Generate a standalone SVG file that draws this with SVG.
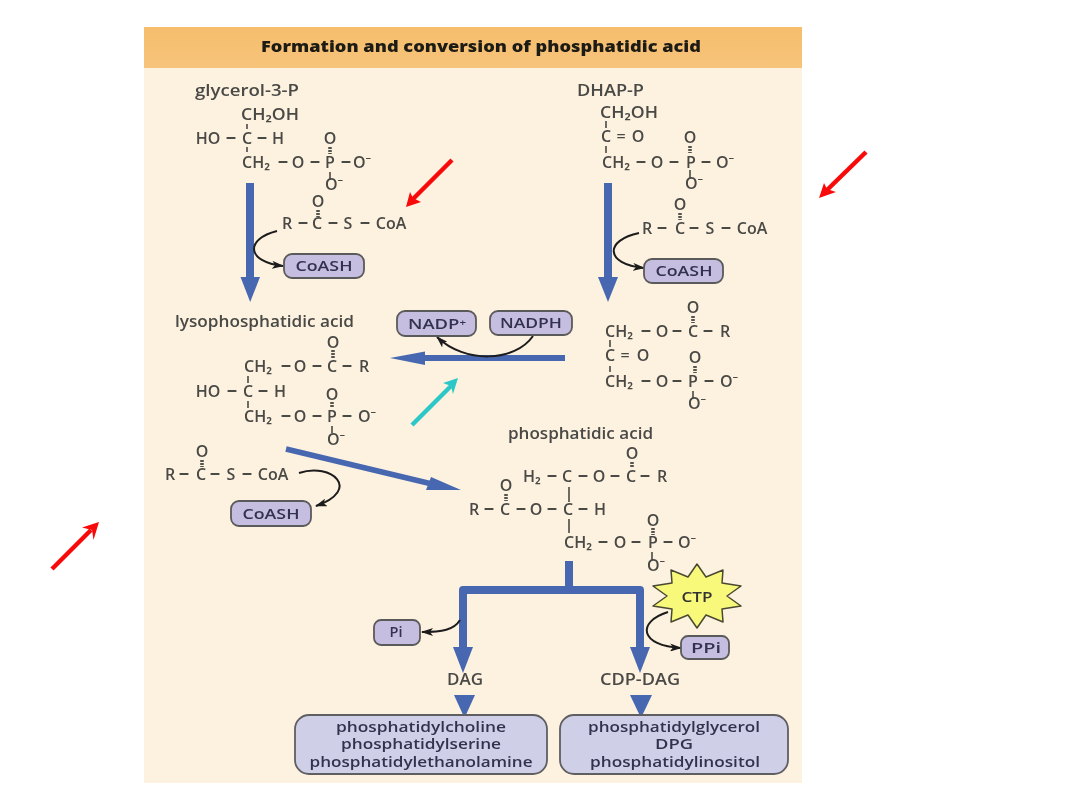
<svg xmlns="http://www.w3.org/2000/svg" width="1080" height="810" viewBox="0 0 1080 810">
<style>
.f{font-family:"Open Sans","Noto Sans","Liberation Sans",sans-serif;font-weight:600;font-size:16px;fill:#484845;text-anchor:middle}
.s{text-anchor:start}
.d{font-size:21px}
.n{font-family:"Open Sans","Noto Sans",sans-serif;font-weight:600;font-size:14.500px;fill:#33334f;text-anchor:middle}
.b{stroke:#5a5a5a;stroke-width:1.8;fill:#c6bee0}
.pb{stroke:#5e5e62;stroke-width:1.8;fill:#cfd0e8}
.bond{stroke:#55554f;stroke-width:1.7;fill:none}
.dbl{stroke:#55554f;stroke-width:3.6;stroke-dasharray:2 1;fill:none}
.flow{stroke:#4668b0;fill:none}
.head{fill:#4668b0}
.c{stroke:#1c1c1c;stroke-width:2;fill:none}
.sup{font-size:9px}
</style>
<defs>
<filter id="soft" x="-2%" y="-2%" width="104%" height="104%"><feGaussianBlur stdDeviation="0.6"/></filter>
<marker id="ch" viewBox="0 0 12 8" refX="11" refY="4" markerWidth="12" markerHeight="8" markerUnits="userSpaceOnUse" orient="auto"><path d="M0 0L12 4L0 8L3 4Z" fill="#1c1c1c"/></marker>
<linearGradient id="hdr" x1="0" y1="0" x2="0" y2="1"><stop offset="0" stop-color="#f5bd6c"/><stop offset="1" stop-color="#f7c47c"/></linearGradient>
</defs>
<rect width="1080" height="810" fill="#fff"/>
<g filter="url(#soft)">
<rect x="144" y="27" width="658" height="756" fill="#fdf1e0"/>
<rect x="144" y="27" width="658" height="41" fill="url(#hdr)"/>
<text x="481" y="52" textLength="440" lengthAdjust="spacingAndGlyphs" style="font-family:'Open Sans','Noto Sans',sans-serif;font-weight:800;font-size:15.500px;fill:#1f1a12;text-anchor:middle">Formation and conversion of phosphatidic acid</text>

<g id="connectors">
<path class="flow" stroke-width="8" d="M250 183V279"/><path class="head" d="M240.500 277H260L250.200 302Z"/>
<path class="flow" stroke-width="8" d="M608 183V279"/><path class="head" d="M598 277H618L608 302Z"/>
<path class="flow" stroke-width="6" d="M565 358H420"/><path class="head" d="M390 358L425 351.500V365Z"/>
<path class="flow" stroke-width="5.500" d="M286 449L432 484"/><path class="head" d="M461 490L431 477L426 490Z"/>
<path class="flow" stroke-width="8" d="M569 561V590"/>
<path class="flow" stroke-width="8" stroke-linejoin="round" d="M463 650V590H640V650"/>
<path class="head" d="M453 647H473L463 673Z"/><path class="head" d="M630 647H650L640 673Z"/>
<path class="head" d="M454 695H475L464.500 718Z"/><path class="head" d="M630 695H652L641 718Z"/>
<path class="c" marker-end="url(#ch)" d="M277 231C245 239 246 262 283 266"/>
<path class="c" marker-end="url(#ch)" d="M639 233C605 240 604 264 644 268"/>
<path class="c" marker-end="url(#ch)" d="M299 473C332 462 362 490 316 506"/>
<path class="c" marker-end="url(#ch)" d="M533 336C515 362 465 364 437 337"/>
<path class="c" marker-end="url(#ch)" d="M460 620C454 630 442 632 422 632"/>
<path class="c" marker-end="url(#ch)" d="M668 612C636 622 640 646 681 648"/>
</g>

<g id="glycerol-3-P">
<text class="f s" x="195" y="96" textLength="104" lengthAdjust="spacingAndGlyphs">glycerol-3-P</text>
<text class="f s" x="241" y="120" textLength="58" lengthAdjust="spacingAndGlyphs">CH₂OH</text>
<path class="bond" d="M247 124V129M247 147V152M330 172V179"/><path class="dbl" d="M330 147V154"/>
<text class="f"><tspan x="208" y="144">HO</tspan><tspan class="d" x="231">–</tspan><tspan x="247">C</tspan><tspan class="d" x="262">–</tspan><tspan x="278">H</tspan><tspan x="330">O</tspan></text>
<text class="f"><tspan x="256" y="168">CH₂</tspan><tspan class="d" x="283">–</tspan><tspan x="298">O</tspan><tspan class="d" x="315">–</tspan><tspan x="330">P</tspan><tspan class="d" x="346">–</tspan><tspan x="362">O⁻</tspan></text>
<text class="f" x="334" y="190">O⁻</text>
</g>
<g id="coa-1">
<path class="dbl" d="M318 210V217"/>
<text class="f" x="318" y="207">O</text>
<text class="f"><tspan x="287" y="229">R</tspan><tspan class="d" x="303">–</tspan><tspan x="317">C</tspan><tspan class="d" x="333">–</tspan><tspan x="348">S</tspan><tspan class="d" x="365">–</tspan><tspan x="391">CoA</tspan></text>
</g>
<g id="coash-1"><rect class="b" x="284" y="254" width="80" height="24" rx="8"/><text class="n" x="324" y="271" textLength="57" lengthAdjust="spacingAndGlyphs">CoASH</text></g>

<g id="DHAP-P">
<text class="f s" x="577" y="96" textLength="67" lengthAdjust="spacingAndGlyphs">DHAP-P</text>
<text class="f s" x="600" y="118" textLength="58" lengthAdjust="spacingAndGlyphs">CH₂OH</text>
<path class="bond" d="M606 121V128M606 146V153M690 170V178"/><path class="dbl" d="M690 146V153"/>
<text class="f"><tspan x="606" y="142">C</tspan><tspan x="621">=</tspan><tspan x="638">O</tspan><tspan x="690" y="143">O</tspan></text>
<text class="f"><tspan x="616" y="168">CH₂</tspan><tspan class="d" x="641">–</tspan><tspan x="657">O</tspan><tspan class="d" x="674">–</tspan><tspan x="691">P</tspan><tspan class="d" x="706">–</tspan><tspan x="725">O⁻</tspan></text>
<text class="f" x="694" y="189">O⁻</text>
</g>
<g id="coa-2">
<path class="dbl" d="M680 213V220"/>
<text class="f" x="680" y="210">O</text>
<text class="f"><tspan x="647" y="234">R</tspan><tspan class="d" x="662">–</tspan><tspan x="680">C</tspan><tspan class="d" x="694">–</tspan><tspan x="710">S</tspan><tspan class="d" x="726">–</tspan><tspan x="752">CoA</tspan></text>
</g>
<g id="coash-2"><rect class="b" x="644" y="259" width="79" height="24" rx="8"/><text class="n" x="684" y="276" textLength="57" lengthAdjust="spacingAndGlyphs">CoASH</text></g>

<g id="lysophosphatidic-acid">
<text class="f s" x="175" y="327" textLength="179" lengthAdjust="spacingAndGlyphs">lysophosphatidic acid</text>
<path class="bond" d="M248 376V383M248 401V408M332 426V433"/><path class="dbl" d="M333 350V358M332 402V408"/>
<text class="f" x="333" y="348">O</text>
<text class="f"><tspan x="258" y="372">CH₂</tspan><tspan class="d" x="286">–</tspan><tspan x="300">O</tspan><tspan class="d" x="317">–</tspan><tspan x="332">C</tspan><tspan class="d" x="347">–</tspan><tspan x="364">R</tspan></text>
<text class="f"><tspan x="208" y="397">HO</tspan><tspan class="d" x="232">–</tspan><tspan x="248">C</tspan><tspan class="d" x="263">–</tspan><tspan x="280">H</tspan><tspan x="332" y="400">O</tspan></text>
<text class="f"><tspan x="258" y="422">CH₂</tspan><tspan class="d" x="286">–</tspan><tspan x="300">O</tspan><tspan class="d" x="317">–</tspan><tspan x="332">P</tspan><tspan class="d" x="347">–</tspan><tspan x="367">O⁻</tspan></text>
<text class="f" x="336" y="445">O⁻</text>
</g>
<g id="coa-3">
<path class="dbl" d="M202 460V467"/>
<text class="f" x="202" y="457">O</text>
<text class="f"><tspan x="170" y="480">R</tspan><tspan class="d" x="184">–</tspan><tspan x="201">C</tspan><tspan class="d" x="215">–</tspan><tspan x="231">S</tspan><tspan class="d" x="247">–</tspan><tspan x="273">CoA</tspan></text>
</g>
<g id="coash-3"><rect class="b" x="231" y="501" width="80" height="25" rx="8"/><text class="n" x="271" y="519" textLength="57" lengthAdjust="spacingAndGlyphs">CoASH</text></g>

<g id="nadp"><rect class="b" x="397" y="311" width="79" height="25" rx="8"/><text class="n" x="437" y="329" textLength="58" lengthAdjust="spacingAndGlyphs">NADP<tspan class="sup" dy="-3">+</tspan></text></g>
<g id="nadph"><rect class="b" x="490" y="311" width="82" height="24" rx="8"/><text class="n" x="531" y="328" textLength="62" lengthAdjust="spacingAndGlyphs">NADPH</text></g>

<g id="acyl-DHAP-P">
<path class="dbl" d="M693 316V323M695 366V373"/>
<path class="bond" d="M610 340V347M610 366V372M693 391V398"/>
<text class="f" x="693" y="313">O</text>
<text class="f"><tspan x="619" y="337">CH₂</tspan><tspan class="d" x="646">–</tspan><tspan x="662">O</tspan><tspan class="d" x="677">–</tspan><tspan x="693">C</tspan><tspan class="d" x="708">–</tspan><tspan x="725">R</tspan></text>
<text class="f"><tspan x="610" y="361">C</tspan><tspan x="625">=</tspan><tspan x="643">O</tspan><tspan x="695" y="363">O</tspan></text>
<text class="f"><tspan x="619" y="387">CH₂</tspan><tspan class="d" x="646">–</tspan><tspan x="662">O</tspan><tspan class="d" x="677">–</tspan><tspan x="693">P</tspan><tspan class="d" x="709">–</tspan><tspan x="729">O⁻</tspan></text>
<text class="f" x="697" y="409">O⁻</text>
</g>

<g id="phosphatidic-acid">
<text class="f s" x="508" y="439" textLength="145" lengthAdjust="spacingAndGlyphs">phosphatidic acid</text>
<path class="dbl" d="M632 462V468M506 494V501M653 528V535"/>
<path class="bond" d="M569 487V502M569 519V533M652 552V560"/>
<text class="f" x="632" y="459">O</text>
<text class="f"><tspan x="532" y="482">H₂</tspan><tspan class="d" x="552">–</tspan><tspan x="567">C</tspan><tspan class="d" x="583">–</tspan><tspan x="599">O</tspan><tspan class="d" x="615">–</tspan><tspan x="631">C</tspan><tspan class="d" x="645">–</tspan><tspan x="662">R</tspan></text>
<text class="f" x="506" y="491">O</text>
<text class="f"><tspan x="474" y="515">R</tspan><tspan class="d" x="489">–</tspan><tspan x="505">C</tspan><tspan class="d" x="521">–</tspan><tspan x="536">O</tspan><tspan class="d" x="552">–</tspan><tspan x="568">C</tspan><tspan class="d" x="583">–</tspan><tspan x="600">H</tspan></text>
<text class="f" x="653" y="526">O</text>
<text class="f"><tspan x="578" y="548">CH₂</tspan><tspan class="d" x="603">–</tspan><tspan x="620">O</tspan><tspan class="d" x="636">–</tspan><tspan x="653">P</tspan><tspan class="d" x="668">–</tspan><tspan x="687">O⁻</tspan></text>
<text class="f" x="656" y="571">O⁻</text>
</g>

<g id="ctp">
<polygon points="697,564 706,577 723,570 722,583 741,586 727,596 741,606 722,609 723,622 706,615 697,628 688,615 671,622 672,609 653,606 667,596 653,586 672,583 671,570 688,577" fill="#f8f87a" stroke="#4a4a30" stroke-width="1.500" stroke-linejoin="round"/>
<text class="n" x="697" y="602" textLength="31" lengthAdjust="spacingAndGlyphs" style="fill:#333">CTP</text>
</g>
<g id="pi"><rect class="b" x="374" y="620" width="46" height="25" rx="7"/><text class="n" x="396" y="637">Pi</text></g>
<g id="ppi"><rect class="b" x="681" y="636" width="48" height="23" rx="7"/><text class="n" x="706" y="653" textLength="30" lengthAdjust="spacingAndGlyphs">PPi</text></g>
<g id="dag"><text class="f" x="465" y="685" textLength="36" lengthAdjust="spacingAndGlyphs">DAG</text></g>
<g id="cdp-dag"><text class="f" x="640" y="685" textLength="80" lengthAdjust="spacingAndGlyphs">CDP-DAG</text></g>
<g id="dag-products"><rect class="pb" x="295" y="715" width="252" height="59" rx="14"/>
<text class="n" x="421" y="732" textLength="170" lengthAdjust="spacingAndGlyphs">phosphatidylcholine</text><text class="n" x="421" y="749" textLength="160" lengthAdjust="spacingAndGlyphs">phosphatidylserine</text><text class="n" x="421" y="767" textLength="223" lengthAdjust="spacingAndGlyphs">phosphatidylethanolamine</text></g>
<g id="cdp-dag-products"><rect class="pb" x="560" y="715" width="228" height="59" rx="14"/>
<text class="n" x="674" y="732" textLength="172" lengthAdjust="spacingAndGlyphs">phosphatidylglycerol</text><text class="n" x="674" y="749" textLength="38" lengthAdjust="spacingAndGlyphs">DPG</text><text class="n" x="675" y="767" textLength="170" lengthAdjust="spacingAndGlyphs">phosphatidylinositol</text></g>
</g>

<g id="annotations" stroke-width="4.500" fill="none">
<path stroke="#f80a0a" d="M452 160L412 200"/><path fill="#f80a0a" d="M406 207L410 192L413 198L421 202Z"/>
<path stroke="#f80a0a" d="M866 152L826 191"/><path fill="#f80a0a" d="M819 198L824 183L827 189L836 192Z"/>
<path stroke="#f80a0a" d="M52 569L91 530"/><path fill="#f80a0a" d="M99 522L82 527.500L92 530L93.500 540Z"/>
<path stroke="#2cc7c7" d="M412 425L451 386"/><path fill="#2cc7c7" d="M458 378L443 383L451 386L453 394Z"/>
</g>
</svg>
